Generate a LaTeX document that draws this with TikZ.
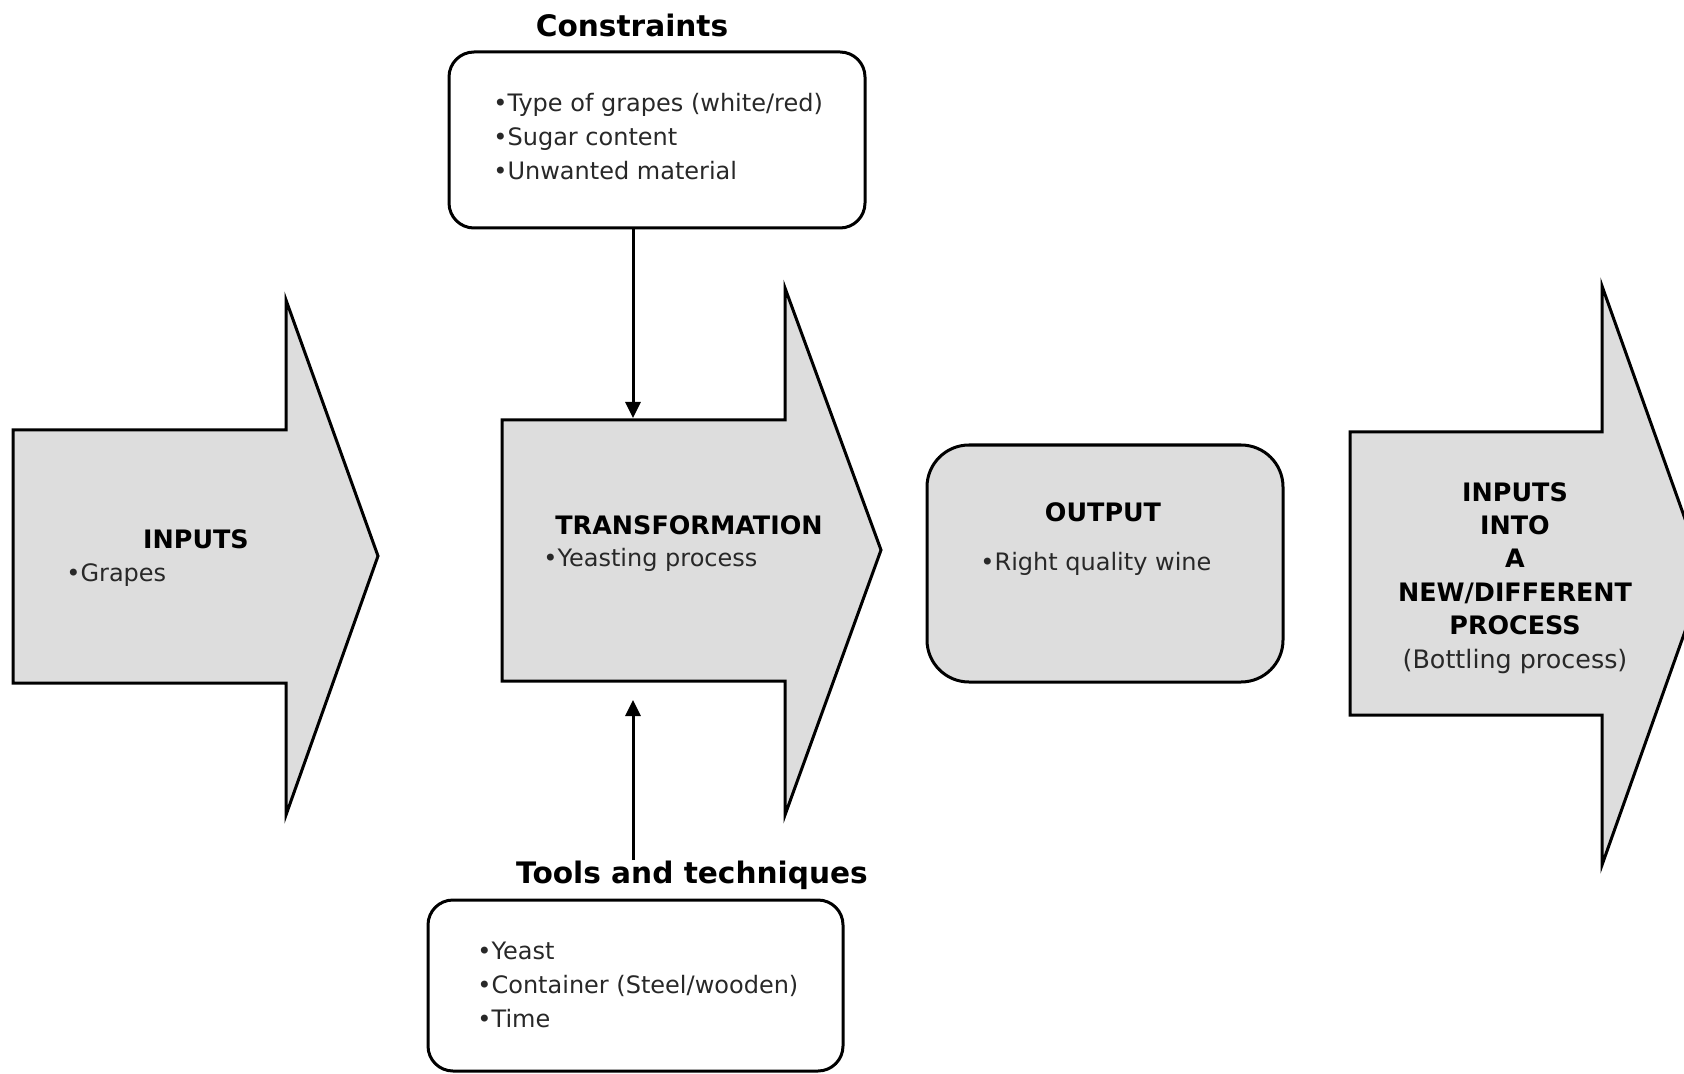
\documentclass[tikz,border=0pt]{standalone}
\usepackage{fontspec}
\setmainfont{DejaVu Sans}
\usetikzlibrary{arrows.meta}
\definecolor{shapefill}{RGB}{221,221,221}
\definecolor{bodytext}{RGB}{40,40,40}
\begin{document}
\begin{tikzpicture}[x=0.5pt,y=-0.5pt,
  flow/.style={draw=black, line width=1.5pt, fill=shapefill, line join=miter},
  card/.style={draw=black, line width=1.5pt, inner sep=0pt},
  head/.style={font=\fontsize{14.8}{17}\selectfont\bfseries, text=black, inner sep=0pt},
  label/.style={font=\fontsize{12.7}{16.7}\selectfont\bfseries, text=black, inner sep=0pt, align=center},
  items/.style={font=\fontsize{12}{17}\selectfont, text=bodytext, inner sep=0pt, align=left},
  feed/.style={line width=1.5pt, -{Triangle[width=7.5pt,length=8pt]}}
]
\useasboundingbox (0,0) rectangle (1684,1074);
\fill[white] (0,0) rectangle (1684,1074);
\clip (0,0) rectangle (1684,1074);

% block arrows of the process chain
\draw[flow] (13,430) -- (286,430) -- (286,300) -- (378,556) -- (286,815) -- (286,683) -- (13,683) -- cycle;
\draw[flow] (502,420) -- (785,420) -- (785,288) -- (881,550) -- (785,815) -- (785,681) -- (502,681) -- cycle;
\draw[flow] (1350,432) -- (1602,432) -- (1602,286) -- (1705,575) -- (1602,865) -- (1602,715) -- (1350,715) -- cycle;

% rounded boxes
\node[card, rounded corners=12.5pt, minimum width=208pt, minimum height=88pt] (consBox) at (657,140) {};
\node[card, rounded corners=12.5pt, minimum width=207.5pt, minimum height=85.5pt] (toolsBox) at (635.5,985.5) {};
\node[card, rounded corners=21pt, fill=shapefill, minimum width=178pt, minimum height=118.5pt] (outBox) at (1105,563.5) {};

% headings
\node[head, anchor=base] (consT) at (632,37) {Constraints};
\node[head, anchor=base] (toolsT) at (692,883) {Tools and techniques};

% box contents (base anchor sits on the last line)
\node[items, anchor=base west] (consL) at (493,180) {•Type of grapes (white/red)\\•Sugar content\\•Unwanted material};
\node[items, anchor=base west] (toolsL) at (477,1027) {•Yeast\\•Container (Steel/wooden)\\•Time};

% arrow labels
\node[label, anchor=base] (inT) at (196,548) {INPUTS};
\node[items, anchor=base west] (inL) at (66,581) {•Grapes};
\node[label, anchor=base] (trT) at (689,534) {TRANSFORMATION};
\node[items, anchor=base west] (trL) at (543,566) {•Yeasting process};
\node[label, anchor=base] (outT) at (1103,521) {OUTPUT};
\node[items, anchor=base west] (outL) at (980,570) {•Right quality wine};
\node[label, anchor=base] (nextT) at (1515,668) {INPUTS\\INTO\\A\\NEW/DIFFERENT\\PROCESS\\{\mdseries\color{bodytext}(Bottling process)}};

% influences on the transformation
\coordinate (trTop) at (633,418);
\coordinate (trBot) at (633,700);
\draw[feed] (consBox.south -| trTop) -- (trTop);
\draw[feed] (toolsT.north -| trBot) -- (trBot);
\end{tikzpicture}
\end{document}
